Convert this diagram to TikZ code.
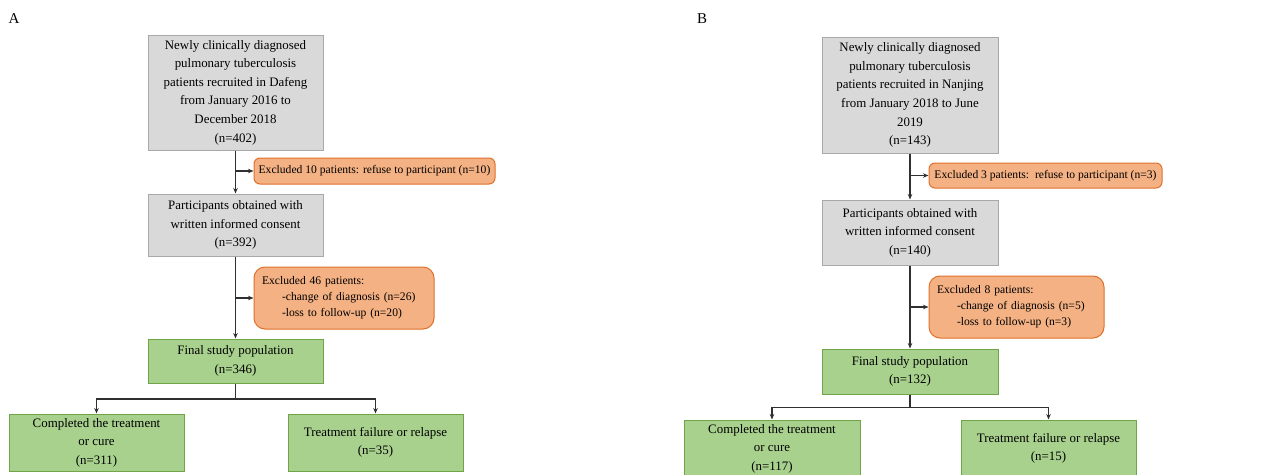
\documentclass[tikz,border=0pt]{standalone}
\usepackage{fontspec}
\setmainfont{Liberation Serif}
\usetikzlibrary{arrows.meta,calc}
\definecolor{grayfill}{HTML}{D9D9D9}
\definecolor{grayline}{HTML}{A8A8A8}
\definecolor{orfill}{HTML}{F4B183}
\definecolor{orline}{HTML}{E0702A}
\definecolor{grfill}{HTML}{A9D18E}
\definecolor{grline}{HTML}{6FA546}
\definecolor{arrcol}{HTML}{303030}
\tikzset{
  base/.style={draw, line width=1pt, inner sep=0pt, align=center,
    font=\fontsize{12.9}{18.6}\selectfont},
  graybox/.style={base, fill=grayfill, draw=grayline},
  greenbox/.style={base, fill=grfill, draw=grline},
  orbox/.style={base, fill=orfill, draw=orline, rounded corners=6pt,
    font=\fontsize{11.6}{16}\selectfont},
  orlist/.style={orbox, rounded corners=11pt, align=left, inner xsep=8pt},
  arr/.style={draw=arrcol, line width=1.1pt, -{Stealth[length=5.5pt,width=4.5pt]}},
  lab/.style={font=\fontsize{15}{17}\selectfont}
}
\begin{document}
\begin{tikzpicture}[x=1pt,y=-1pt]
\useasboundingbox (0,0) rectangle (1261,474);
\clip (0,0) rectangle (1261,474);
\fill[white] (0,0) rectangle (1261,474);
% ---------------- Panel A ----------------
\node[lab] (la) at (14,19) {A};
\node[graybox, minimum width=175pt, minimum height=115pt] (a1) at (235.5,92.5)
  {Newly clinically diagnosed\\pulmonary tuberculosis\\patients recruited in Dafeng\\from January 2016 to\\December 2018\\(n=402)};
\node[orbox, minimum width=241pt, minimum height=26pt] (a2) at (374.5,171)
  {Excluded 10 patients: refuse to participant (n=10)};
\node[graybox, minimum width=175pt, minimum height=62pt] (a3) at (235.5,225)
  {Participants obtained with\\written informed consent\\(n=392)};
\node[orlist, minimum width=180pt, text width=164pt, minimum height=62pt] (a4) at (344,298)
  {Excluded 46 patients:\\\hspace*{20pt}-change of diagnosis (n=26)\\\hspace*{20pt}-loss to follow-up (n=20)};
\node[greenbox, minimum width=175pt, minimum height=44pt] (a5) at (235.5,361)
  {Final study population\\(n=346)};
\node[greenbox, minimum width=175pt, minimum height=57pt] (a6) at (96.5,442.5)
  {Completed the treatment\\or cure\\(n=311)};
\node[greenbox, minimum width=175pt, minimum height=57pt] (a7) at (375.5,442.5)
  {Treatment failure or relapse\\(n=35)};
\draw[arr] (a1.south) -- (a3.north);
\draw[arr] (a1.south |- a2.west) -- (a2.west);
\draw[arr] (a3.south) -- (a5.north);
\draw[arr] (a3.south |- a4.west) -- (a4.west);
\draw[arr] (a5.south) -- ++(0,15.5) -| (a6.north);
\draw[arr] (a5.south) -- ++(0,15.5) -| (a7.north);
% ---------------- Panel B ----------------
\node[lab] (lb) at (702,19) {B};
\node[graybox, minimum width=176pt, minimum height=116pt] (b1) at (910,95)
  {Newly clinically diagnosed\\pulmonary tuberculosis\\patients recruited in Nanjing\\from January 2018 to June\\2019\\(n=143)};
\node[orbox, minimum width=233pt, minimum height=25pt] (b2) at (1045.5,175.5)
  {Excluded 3 patients:\ \ refuse to participant (n=3)};
\node[graybox, minimum width=176pt, minimum height=65pt] (b3) at (910,232.5)
  {Participants obtained with\\written informed consent\\(n=140)};
\node[orlist, minimum width=175pt, text width=159pt, minimum height=62pt] (b4) at (1016.5,307)
  {Excluded 8 patients:\\\hspace*{20pt}-change of diagnosis (n=5)\\\hspace*{20pt}-loss to follow-up (n=3)};
\node[greenbox, minimum width=176pt, minimum height=45pt] (b5) at (910,371.5)
  {Final study population\\(n=132)};
\node[greenbox, minimum width=176pt, minimum height=57pt] (b6) at (772,448.5)
  {Completed the treatment\\or cure\\(n=117)};
\node[greenbox, minimum width=175pt, minimum height=57pt] (b7) at (1048.5,448.5)
  {Treatment failure or relapse\\(n=15)};
\draw[arr] (b1.south) -- (b3.north);
\draw[arr] (b1.south |- b2.west) -- (b2.west);
\draw[arr] (b3.south) -- (b5.north);
\draw[arr] (b3.south |- b4.west) -- (b4.west);
\draw[arr] (b5.south) -- ++(0,13) -| (b6.north);
\draw[arr] (b5.south) -- ++(0,13) -| (b7.north);
\end{tikzpicture}
\end{document}
